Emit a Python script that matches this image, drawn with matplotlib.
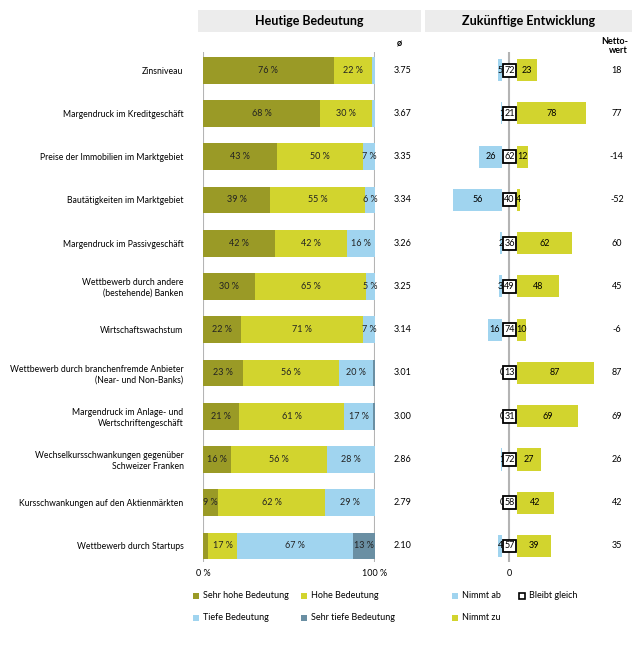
import matplotlib
matplotlib.use("Agg")
import matplotlib.pyplot as plt
from matplotlib.patches import Rectangle

plt.rcParams['font.family'] = ['Lato', 'DejaVu Sans']

# data
categories = ["Zinsniveau", "Margendruck im Kreditgeschäft",
              "Preise der Immobilien im Marktgebiet", "Bautätigkeiten im Marktgebiet",
              "Margendruck im Passivgeschäft", "Wettbewerb durch andere\n(bestehende) Banken",
              "Wirtschaftswachstum",
              "Wettbewerb durch branchenfremde Anbieter\n(Near- und Non-Banks)",
              "Margendruck im Anlage- und\nWertschriftengeschäft",
              "Wechselkursschwankungen gegenüber\nSchweizer Franken",
              "Kursschwankungen auf den Aktienmärkten", "Wettbewerb durch Startups"]
sehr_hoch = [76, 68, 43, 39, 42, 30, 22, 23, 21, 16, 9, 3]
hoch = [22, 30, 50, 55, 42, 65, 71, 56, 61, 56, 62, 17]
tief = [2, 2, 7, 6, 16, 5, 7, 20, 17, 28, 29, 67]
sehr_tief = [0, 0, 0, 0, 0, 0, 0, 1, 1, 0.5, 0, 13]
avg = ["3.75", "3.67", "3.35", "3.34", "3.26", "3.25", "3.14", "3.01", "3.00", "2.86", "2.79", "2.10"]
nimmt_ab = [5, 1, 26, 56, 2, 3, 16, 0, 0, 1, 0, 4]
gleich = [72, 21, 62, 40, 36, 49, 74, 13, 31, 72, 58, 57]
nimmt_zu = [23, 78, 12, 4, 62, 48, 10, 87, 69, 27, 42, 39]
netto = [18, 77, -14, -52, 60, 45, -6, 87, 69, 26, 42, 35]

c_sh = "#9a9a26"
c_h = "#d2d42e"
c_t = "#a0d4ef"
c_st = "#6a8fa3"
c_line = "#b4b4b4"

W, H = 642, 655
fig = plt.figure(figsize=(W / 100, H / 100), dpi=100)

def fx(x):
    return x / W

def fy(y):
    return 1 - y / H

n = len(categories)
ys = list(range(n))
fs = 6.5

# left panel
ax = fig.add_axes([fx(203), fy(562), (375 - 203) / W, (562 - 52) / H])
left = [0] * n
for vals, col in [(sehr_hoch, c_sh), (hoch, c_h), (tief, c_t), (sehr_tief, c_st)]:
    ax.barh(ys, vals, left=left, height=0.62, color=col, zorder=2)
    for i in ys:
        if vals[i] >= 5:
            ax.text(left[i] + vals[i] / 2, i, f"{vals[i]} %", ha="center", va="center",
                    fontsize=fs, color="#222222", zorder=3)
    left = [l + v for l, v in zip(left, vals)]
ax.set_xlim(0, 100)
ax.set_ylim(11.37, -0.42)
ax.axvline(0, color=c_line, lw=1.5, zorder=1)
ax.axvline(100, color=c_line, lw=1.5, zorder=1)
for s in ax.spines.values():
    s.set_visible(False)
ax.set_yticks(ys)
ax.set_yticklabels(categories, fontsize=6.2)
ax.tick_params(axis="y", length=0, pad=14)
ax.set_xticks([0, 100])
ax.set_xticklabels(["0 %", "100 %"], fontsize=fs)
ax.tick_params(axis="x", length=0, pad=5)
for i in ys:
    ax.text(116, i, avg[i], ha="center", va="center", fontsize=fs, clip_on=False)

# right panel
ax2 = fig.add_axes([fx(425), fy(562), (632 - 425) / W, (562 - 52) / H])
off = 8.5
ax2.barh(ys, [-v for v in nimmt_ab], left=-off, height=0.51, color=c_t, zorder=2)
ax2.barh(ys, nimmt_zu, left=off, height=0.51, color=c_h, zorder=2)
for i in ys:
    ax2.text(-off - nimmt_ab[i] / 2, i, str(nimmt_ab[i]), ha="center", va="center",
             fontsize=fs, zorder=3)
    ax2.text(off + nimmt_zu[i] / 2, i, str(nimmt_zu[i]), ha="center", va="center",
             fontsize=fs, zorder=3)
    ax2.add_patch(Rectangle((-7.4, i - 0.15), 14.8, 0.30, facecolor="white",
                            edgecolor="black", lw=1.3, zorder=4))
    ax2.text(0, i, str(gleich[i]), ha="center", va="center", fontsize=fs, zorder=5)
    ax2.text(122, i, str(netto[i]), ha="center", va="center", fontsize=fs, clip_on=False)
ax2.axvline(0, color=c_line, lw=1.5, zorder=1)
ax2.set_xlim(-96, 139.2)
ax2.set_ylim(11.37, -0.42)
for s in ax2.spines.values():
    s.set_visible(False)
ax2.set_yticks([])
ax2.set_xticks([0])
ax2.set_xticklabels(["0"], fontsize=fs)
ax2.tick_params(axis="x", length=0, pad=5)

# header boxes
for x0, x1, title in [(198, 421, "Heutige Bedeutung"), (425, 632, "Zukünftige Entwicklung")]:
    fig.patches.append(Rectangle((fx(x0), fy(32)), (x1 - x0) / W, 22 / H,
                                 transform=fig.transFigure, facecolor="#ececec",
                                 edgecolor="none"))
    fig.text(fx((x0 + x1) / 2), fy(21), title, ha="center", va="center",
             fontsize=9, fontweight="bold")
fig.text(fx(399), fy(44), "ø", ha="center", va="center", fontsize=fs, fontweight="bold")
fig.text(fx(628), fy(46), "Netto-\nwert", ha="right", va="center", fontsize=fs,
         fontweight="bold", linespacing=1.1, multialignment="right")

# legend
legend_items = [(196, 596, c_sh, "Sehr hohe Bedeutung"), (304, 596, c_h, "Hohe Bedeutung"),
                (196, 618, c_t, "Tiefe Bedeutung"), (304, 618, c_st, "Sehr tiefe Bedeutung"),
                (455, 596, c_t, "Nimmt ab"), (522, 596, None, "Bleibt gleich"),
                (455, 618, c_h, "Nimmt zu")]
for x, y, col, lab in legend_items:
    if col is None:
        fig.patches.append(Rectangle((fx(x - 3), fy(y + 3)), 6 / W, 6 / H,
                                     transform=fig.transFigure, facecolor="white",
                                     edgecolor="black", lw=1.2))
    else:
        fig.patches.append(Rectangle((fx(x - 3), fy(y + 3)), 6 / W, 6 / H,
                                     transform=fig.transFigure, facecolor=col,
                                     edgecolor="none"))
    fig.text(fx(x + 7), fy(y), lab, ha="left", va="center", fontsize=fs)

fig.savefig("out.png", dpi=100)
